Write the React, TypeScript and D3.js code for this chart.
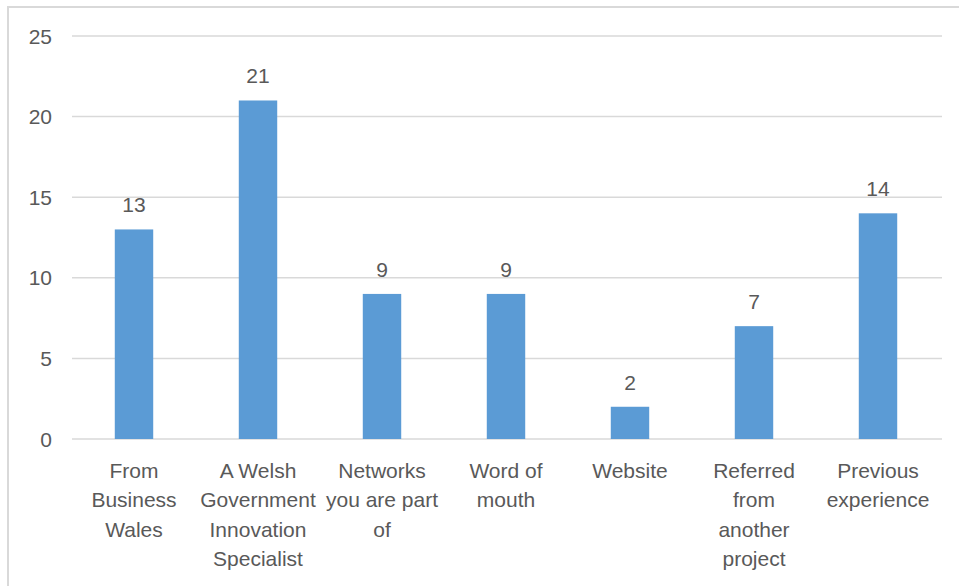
import React from "react";
import * as d3 from "d3";

const categories: string[][] = [
  ["From", "Business", "Wales"],
  ["A Welsh", "Government", "Innovation", "Specialist"],
  ["Networks", "you are part", "of"],
  ["Word of", "mouth"],
  ["Website"],
  ["Referred", "from", "another", "project"],
  ["Previous", "experience"],
];
const values: number[] = [13, 21, 9, 9, 2, 7, 14];
const yTicks: number[] = [0, 5, 10, 15, 20, 25];

const W = 959;
const H = 586;
const left = 72;
const right = 940;
const top = 36;
const bottom = 439;
const font = "'Liberation Sans', Arial, sans-serif";
const textColor = "#595959";

export default function App() {
  const keys = categories.map((_, i) => String(i));
  const x = d3.scaleBand<string>().domain(keys).range([left, right]).paddingInner(0.69).paddingOuter(0.345);
  const y = d3.scaleLinear().domain([0, 25]).range([bottom, top]);

  return (
    <svg
      width={W}
      height={H}
      style={{ position: "absolute", left: 0, top: 0, display: "block", background: "#fff" }}
    >
      <rect x={8} y={7} width={952} height={600} fill="#fff" stroke="#d9d9d9" strokeWidth={2} />
      {yTicks.map((t) => (
        <g key={t}>
          <line x1={left} x2={right + 2} y1={y(t)} y2={y(t)} stroke="#d9d9d9" strokeWidth={1.5} />
          <text
            x={52}
            y={y(t)}
            dy="0.36em"
            textAnchor="end"
            fontFamily={font}
            fontSize={21}
            fill={textColor}
          >
            {t}
          </text>
        </g>
      ))}
      {values.map((v, i) => {
        const bx = x(String(i))!;
        const bw = x.bandwidth();
        return (
          <g key={i}>
            <rect x={bx} y={y(v)} width={bw} height={y(0) - y(v)} fill="#5b9bd5" />
            <text
              x={bx + bw / 2}
              y={y(v) - 17}
              textAnchor="middle"
              fontFamily={font}
              fontSize={21}
              fill={textColor}
            >
              {v}
            </text>
            {categories[i].map((line, j) => (
              <text
                key={j}
                x={bx + bw / 2}
                y={478 + j * 29.4}
                textAnchor="middle"
                fontFamily={font}
                fontSize={21}
                fill={textColor}
              >
                {line}
              </text>
            ))}
          </g>
        );
      })}
    </svg>
  );
}
